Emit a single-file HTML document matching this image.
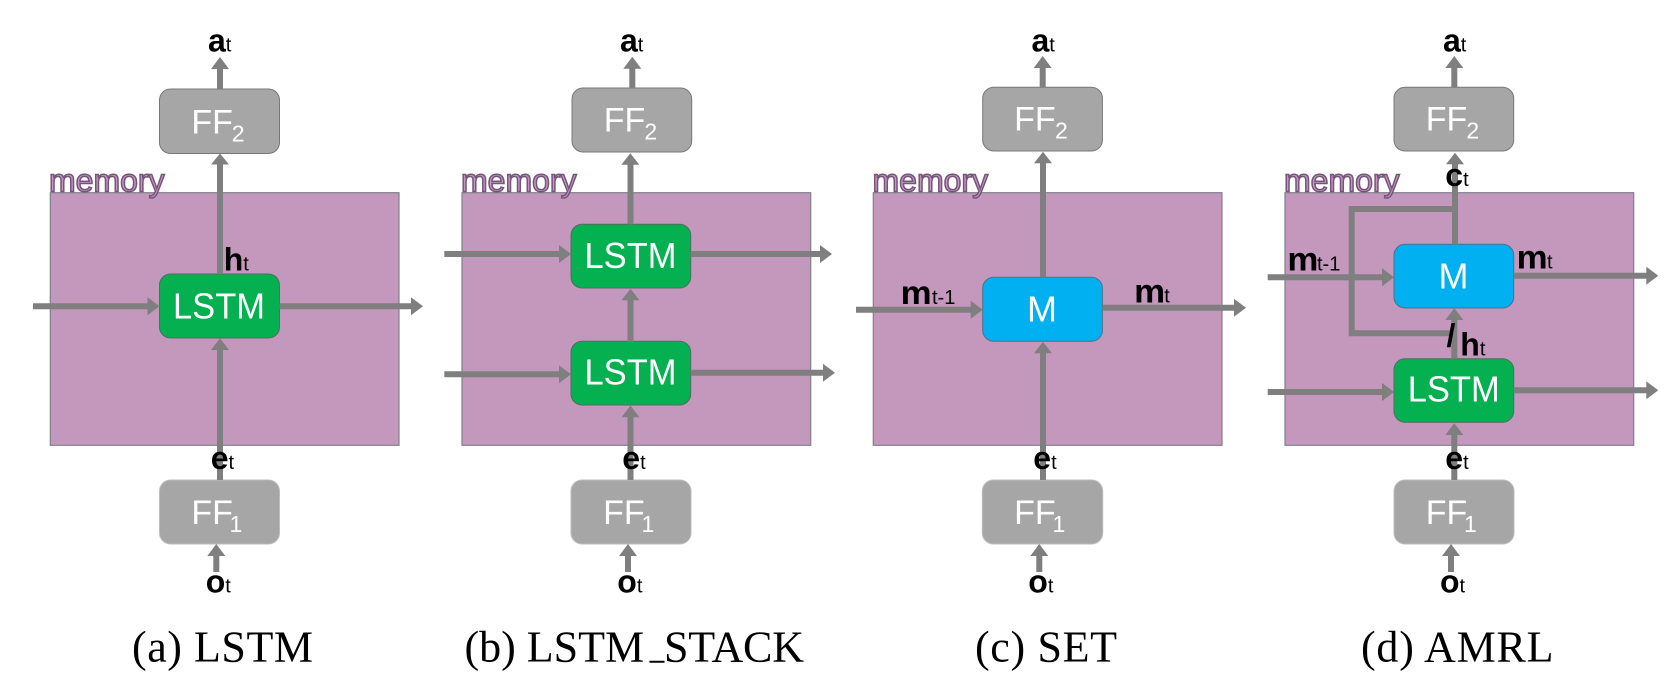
<!DOCTYPE html>
<html>
<head>
<meta charset="utf-8">
<title>Memory architectures</title>
<style>
html,body{margin:0;padding:0;background:#fff;width:1665px;height:675px;overflow:hidden}
svg{display:block}
text{font-family:"Liberation Sans",sans-serif}
.mem{fill:#c497bd;stroke:#80808a;stroke-width:1.2}
.mt{font-size:32px;fill:#c497bd;stroke:#75557c;stroke-width:1.5}
.ln{stroke:#7f7f7f;stroke-width:6;fill:none}
.hd{fill:#7f7f7f}
.ff2{fill:#a6a6a6;stroke:#787878;stroke-width:1}
.ff1{fill:#a6a6a6;stroke:#bdbdbd;stroke-width:1}
.ls{fill:#05b050;stroke:#4f6f60;stroke-width:1}
.mb{fill:#00b0f0;stroke:#50708a;stroke-width:1}
.w{fill:#fff;font-size:34px}
.ws{font-size:23px}
.c{fill:#fff;font-size:36px;text-anchor:middle}
.l{fill:#000;font-size:32px;font-weight:bold}
.m{fill:#000;font-size:33px;font-weight:bold}
.s{font-size:20px;font-weight:normal}
.sx{fill:#000;font-size:20px}
.cap{font-family:"Liberation Serif",serif;font-size:44px;fill:#000}
</style>
</head>
<body>
<svg width="1665" height="675" viewBox="0 0 1665 675" xmlns="http://www.w3.org/2000/svg">
<rect x="0" y="0" width="1665" height="675" fill="#fff"/>

<!-- memory rects -->
<rect class="mem" x="50.3" y="192.7" width="348.7" height="252.6"/>
<rect class="mem" x="462" y="192.7" width="348.7" height="252.6"/>
<rect class="mem" x="873.3" y="192.7" width="348.7" height="252.6"/>
<rect class="mem" x="1285" y="192.7" width="348.7" height="252.6"/>
<text class="mt" x="49" y="191.7">memory</text>
<text class="mt" x="461" y="191.7">memory</text>
<text class="mt" x="872.5" y="191.7">memory</text>
<text class="mt" x="1284" y="191.7">memory</text>

<!-- Panel a -->
<rect class="ff2" x="159.5" y="89" width="120" height="64.5" rx="11"/>
<rect class="ls" x="159.5" y="274" width="120" height="64" rx="11"/>
<rect class="ff1" x="159.5" y="480" width="120" height="64" rx="11"/>
<path class="ln" d="M220 89V68M220 274V163M220 480V349M33 306.3H149M279.5 306.3H412M216.3 572V555"/>
<path class="hd" d="M220 57l9 12h-18zM220 153.5l9 11h-18zM220 338.3l9 11.7h-18zM159.5 306.3l-12 -9v18zM423 306.3l-12 -9v18zM216.3 544l9 12h-18z"/>

<!-- Panel b -->
<rect class="ff2" x="572" y="88" width="119.7" height="64" rx="11"/>
<rect class="ls" x="571" y="224.3" width="119.7" height="63.7" rx="11"/>
<rect class="ls" x="571" y="341.3" width="119.7" height="63.7" rx="11"/>
<rect class="ff1" x="571" y="480" width="120" height="64" rx="11"/>
<path class="ln" d="M632.3 88V67M630.5 224.3V163M630.5 341.5V299M630.5 480V416M444.3 254H560M690.7 254H821M444.3 374.3H560M690.7 372.7H824M628 572V555"/>
<path class="hd" d="M632.3 56.7l9 12h-18zM630.3 153.3l9 11.4h-18zM630.5 288.7l9 11.5h-18zM630.5 405.5l9 11.8h-18zM571 254l-12 -9v18zM832 254l-12 -9v18zM571 374.3l-12 -9v18zM835 372.7l-12 -9v18zM628 544l9 12h-18z"/>

<!-- Panel c -->
<rect class="ff2" x="982.7" y="87.3" width="119.7" height="63.7" rx="11"/>
<rect class="mb" x="982.7" y="277.3" width="119.7" height="64" rx="11"/>
<rect class="ff1" x="982.3" y="480" width="120.4" height="64" rx="11"/>
<path class="ln" d="M1042.7 87.3V66M1043 277.3V162M1043 480V352M856 309.7H972M1102.4 307.7H1235M1039.3 572V555"/>
<path class="hd" d="M1042.7 56l9 12h-18zM1043 151.7l9 11.6h-18zM1043 341.7l9 11.6h-18zM982.7 309.7l-12 -9v18zM1246 307.7l-12 -9v18zM1039.3 544l9 12h-18z"/>

<!-- Panel d -->
<rect class="ff2" x="1394" y="87.3" width="119.7" height="63.7" rx="11"/>
<rect class="mb" x="1394" y="244.3" width="119.7" height="63.7" rx="11"/>
<rect class="ls" x="1394" y="358.7" width="119.7" height="63.6" rx="11"/>
<rect class="ff1" x="1394" y="480" width="120" height="64" rx="11"/>
<path class="ln" d="M1454.3 87.3V66M1455 244.3V163M1455 209H1351.7V333.3H1452M1454.3 358.7V319M1454.3 480V434M1267.7 277.3H1383M1513.7 275.7H1647M1267.7 392H1383M1513.7 390.3H1647M1451 572V555"/>
<path class="hd" d="M1454.3 56l9 12h-18zM1455 152.7l9 11.6h-18zM1454.3 308.3l9 11.7h-18zM1454.3 423.3l9 11.7h-18zM1394 277.3l-12 -9v18zM1658.3 275.7l-12 -9v18zM1394 392l-12 -9v18zM1658.3 390.3l-12 -9v18zM1451 544l9 12h-18z"/>

<!-- box text -->
<text class="w" x="191.4" y="133.3">FF</text><text class="w ws" x="231.8" y="141.3">2</text>
<text class="w" x="191.4" y="524">FF</text><text class="w ws" x="229.5" y="532">1</text>
<text class="c" x="219" y="318.7" textLength="92" lengthAdjust="spacingAndGlyphs">LSTM</text>

<text class="w" x="603.7" y="131.7">FF</text><text class="w ws" x="644.4" y="139.7">2</text>
<text class="w" x="603.1" y="524">FF</text><text class="w ws" x="641.5" y="532">1</text>
<text class="c" x="630.5" y="268" textLength="92" lengthAdjust="spacingAndGlyphs">LSTM</text>
<text class="c" x="630.5" y="384.7" textLength="92" lengthAdjust="spacingAndGlyphs">LSTM</text>

<text class="w" x="1014.1" y="130.7">FF</text><text class="w ws" x="1055" y="138.7">2</text>
<text class="w" x="1014.1" y="524">FF</text><text class="w ws" x="1052.5" y="532">1</text>
<text class="c" x="1042" y="321.7">M</text>

<text class="w" x="1425.7" y="130.7">FF</text><text class="w ws" x="1466.4" y="138.7">2</text>
<text class="w" x="1425.7" y="524">FF</text><text class="w ws" x="1464" y="532">1</text>
<text class="c" x="1453.5" y="288.3">M</text>
<text class="c" x="1453.7" y="401.7" textLength="92" lengthAdjust="spacingAndGlyphs">LSTM</text>

<!-- labels -->
<text class="l" x="208" y="51.7">a<tspan class="s">t</tspan></text>
<text class="l" x="620" y="51.7">a<tspan class="s">t</tspan></text>
<text class="l" x="1031.5" y="51.7">a<tspan class="s">t</tspan></text>
<text class="l" x="1443" y="51.7">a<tspan class="s">t</tspan></text>

<text class="l" x="210.7" y="469">e<tspan class="s">t</tspan></text>
<text class="l" x="622.3" y="469">e<tspan class="s">t</tspan></text>
<text class="l" x="1033.3" y="469">e<tspan class="s">t</tspan></text>
<text class="l" x="1445.3" y="469">e<tspan class="s">t</tspan></text>

<text class="l" x="205.7" y="592.3">o<tspan class="s">t</tspan></text>
<text class="l" x="617.3" y="592.3">o<tspan class="s">t</tspan></text>
<text class="l" x="1028.3" y="592.3">o<tspan class="s">t</tspan></text>
<text class="l" x="1440" y="592.3">o<tspan class="s">t</tspan></text>

<text class="l" x="223.7" y="270.7">h<tspan class="s">t</tspan></text>
<text class="l" x="1460.3" y="355.5">h<tspan class="s">t</tspan></text>
<text class="l" x="1446.5" y="346.5">/</text>
<text class="l" x="1445.3" y="186">c<tspan class="s">t</tspan></text>

<text class="m" x="900.7" y="304" textLength="31" lengthAdjust="spacingAndGlyphs">m</text><text class="sx" x="932" y="304">t-1</text>
<text class="m" x="1134.1" y="302.7" textLength="31" lengthAdjust="spacingAndGlyphs">m</text><text class="sx" x="1164.3" y="302.7">t</text>
<text class="m" x="1287.4" y="270.7" textLength="31" lengthAdjust="spacingAndGlyphs">m</text><text class="sx" x="1317" y="270.7">t-1</text>
<text class="m" x="1516.7" y="268.3" textLength="31" lengthAdjust="spacingAndGlyphs">m</text><text class="sx" x="1547" y="268.3">t</text>

<!-- captions -->
<text class="cap" x="132" y="661.7" textLength="181" lengthAdjust="spacing">(a) LSTM</text>
<text class="cap" x="464.5" y="661.7">(b) LSTM</text>
<text class="cap" style="font-size:28px;stroke:#000;stroke-width:0.6" x="650" y="659">_</text>
<text class="cap" x="664" y="661.7" textLength="140" lengthAdjust="spacing">STACK</text>
<text class="cap" x="975" y="661.7" textLength="142" lengthAdjust="spacing">(c) SET</text>
<text class="cap" x="1361" y="661.7" textLength="192.5" lengthAdjust="spacing">(d) AMRL</text>
</svg>
</body>
</html>
